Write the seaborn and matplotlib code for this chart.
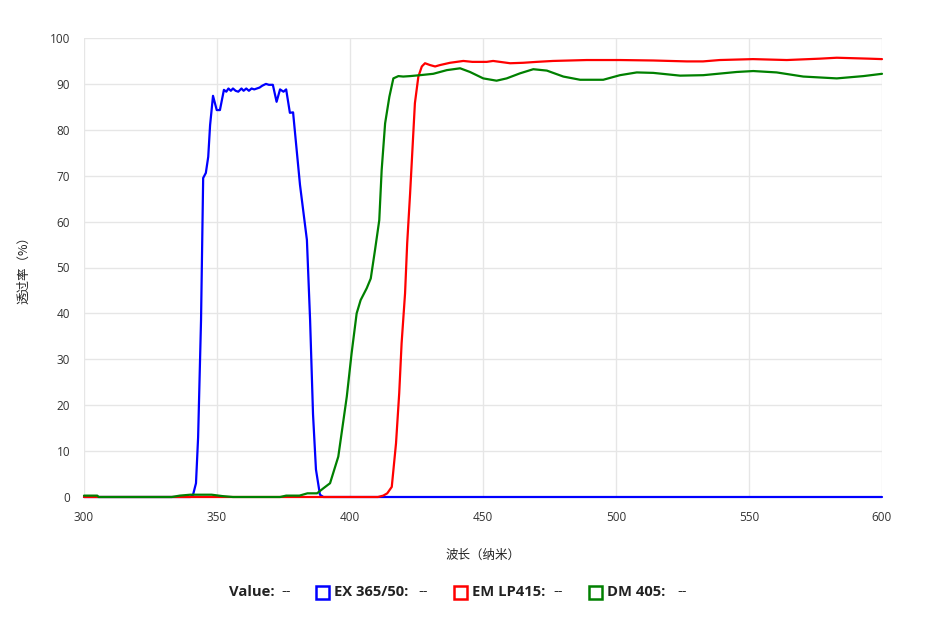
import numpy as np
import pandas as pd
import seaborn as sns
import matplotlib
matplotlib.use("Agg")
import matplotlib.pyplot as plt
from matplotlib.patches import Rectangle

# ---- data ----
ex_wl = [300, 340, 341, 342.1, 342.9, 344, 344.8, 345.8, 346.7, 347.4, 348.5, 349.9, 351.1,
         352.6, 353.5, 354.3, 355.2, 356, 357, 358, 359.2, 360, 361, 362, 363, 364, 365, 366,
         367, 368.4, 369.5, 371, 372.4, 373.7, 375, 376, 377.4, 378.6, 381.2, 382.5, 383.8,
         385, 386.1, 387.2, 388.7, 390, 600]
ex_val = [0, 0, 0.5, 3, 13, 38.6, 69.5, 70.6, 74.1, 81, 87.4, 84.3, 84.3,
          88.7, 88.3, 89, 88.5, 89, 88.5, 88.3, 89, 88.5, 89, 88.5, 89, 88.8, 89, 89.2,
          89.6, 90, 89.8, 89.8, 86.1, 88.8, 88.3, 88.8, 83.7, 83.8, 68, 62, 56,
          38.5, 18, 6, 0.5, 0, 0]

em_wl = [300, 410.5, 412.5, 414, 415.7, 417.3, 418.5, 419.4, 420.7, 421.5, 422.6, 423.6, 424.4,
         425.7, 427.0, 428.2, 430.1, 432.0, 433.8, 437.6, 442.6, 446, 451.4, 453.8, 460.2,
         465.1, 470.2, 476.3, 489, 501.5, 514, 526.6, 532.7, 539, 551.5, 564.2, 576.7, 583,
         589, 595, 600]
em_val = [0, 0, 0.3, 0.8, 2.2, 11.7, 22.6, 33.5, 44.4, 55.3, 66.2, 77.1, 85.8,
          91.6, 93.8, 94.5, 94.1, 93.8, 94.1, 94.6, 95.0, 94.8, 94.8, 95.0, 94.5,
          94.6, 94.8, 95.0, 95.2, 95.2, 95.1, 94.9, 94.9, 95.2, 95.4, 95.2, 95.5, 95.7,
          95.6, 95.5, 95.4]

dm_wl = [300, 305, 305.5, 333, 336, 340, 345, 348, 352, 356, 373.7, 376, 381, 384, 387.6,
         390, 392.5, 395.6, 398.8, 400.6, 402.5, 404, 406.3, 407.8, 409.4, 411, 411.9, 413.2,
         414.8, 416.3, 418.2, 420, 422.6, 426.3, 431.3, 436.4, 441.4, 445.1, 450.1, 455.1,
         458.9, 463.9, 468.9, 474, 480.2, 486.5, 495.2, 501.5, 507.8, 514, 524.1, 532.8,
         545.4, 551.6, 560.4, 570.4, 583, 593, 600]
dm_val = [0.3, 0.3, 0, 0, 0.3, 0.5, 0.5, 0.5, 0.2, 0, 0, 0.3, 0.3, 0.8, 0.8,
          1.9, 3, 8.8, 21.9, 31.3, 40.0, 42.9, 45.5, 47.6, 53.8, 60.3, 71.2, 81.4,
          87.2, 91.2, 91.7, 91.6, 91.7, 91.9, 92.2, 93.0, 93.4, 92.6, 91.2, 90.7,
          91.2, 92.3, 93.2, 92.9, 91.6, 90.9, 90.9, 91.9, 92.5, 92.4, 91.8, 91.9,
          92.6, 92.8, 92.5, 91.6, 91.2, 91.7, 92.2]

series_names = ["EX 365/50", "EM LP415", "DM 405"]
series_colors = ["#0000ff", "#ff0000", "#008000"]
x_ticks = [300, 350, 400, 450, 500, 550, 600]
y_ticks = list(range(0, 101, 10))
x_label = "波长（纳米）"
y_label = "透过率（%）"

df = pd.concat([
    pd.DataFrame({"wl": ex_wl, "val": ex_val, "series": series_names[0]}),
    pd.DataFrame({"wl": em_wl, "val": em_val, "series": series_names[1]}),
    pd.DataFrame({"wl": dm_wl, "val": dm_val, "series": series_names[2]}),
], ignore_index=True)

sns.set_theme(style="white")
plt.rcParams["font.family"] = ["Open Sans", "Noto Sans CJK SC", "DejaVu Sans"]

fig = plt.figure(figsize=(9.32, 6.36), dpi=100)
ax = fig.add_axes([84 / 932, 1 - 497 / 636, (882 - 84) / 932, (497 - 38) / 636])

sns.lineplot(data=df, x="wl", y="val", hue="series", hue_order=series_names,
             palette=dict(zip(series_names, series_colors)), estimator=None, sort=False,
             linewidth=1.6, legend=False, ax=ax, zorder=3)
for ln in ax.lines:
    ln.set_clip_on(False)

ax.set_xlim(300, 600)
ax.set_ylim(0, 100)
ax.set_xticks(x_ticks)
ax.set_yticks(y_ticks)
ax.grid(True, color="#e6e6e6", linewidth=1)
ax.tick_params(axis="both", length=7, color="#e6e6e6", labelsize=8.5, labelcolor="#333333", pad=3)
for s in ax.spines.values():
    s.set_visible(False)
cjk = ["Noto Sans CJK SC", "DejaVu Sans"]
ax.set_xlabel(x_label, fontsize=9, color="#222222", labelpad=18, family=cjk)
ax.set_ylabel(y_label, fontsize=9, color="#222222", labelpad=8, family=cjk)
ax.yaxis.set_label_coords(-54 / 798, 0.5)

# custom legend row
W, H = 932, 636
yc = 1 - 592 / H
fs = 10.6
fig.text(229 / W, yc, "Value:", fontsize=fs, fontweight="bold", va="center", ha="left", color="#222222")
fig.text(281 / W, yc, "--", fontsize=9.5, va="center", ha="left", color="#222222", family="DejaVu Sans")
legend_items = [(316, 334, 418), (454, 472, 553), (589, 607, 677)]
for (sq, tx, dash), name, col in zip(legend_items, series_names, series_colors):
    fig.patches.append(Rectangle((sq / W, (H - 592 - 6.5) / H), 13 / W, 13 / H,
                                 transform=fig.transFigure, fill=False, edgecolor=col, linewidth=1.8))
    fig.text(tx / W, yc, name + ":", fontsize=fs, fontweight="bold", va="center", ha="left", color="#222222")
    fig.text(dash / W, yc, "--", fontsize=9.5, va="center", ha="left", color="#222222", family="DejaVu Sans")

fig.savefig("out.png", dpi=100)
